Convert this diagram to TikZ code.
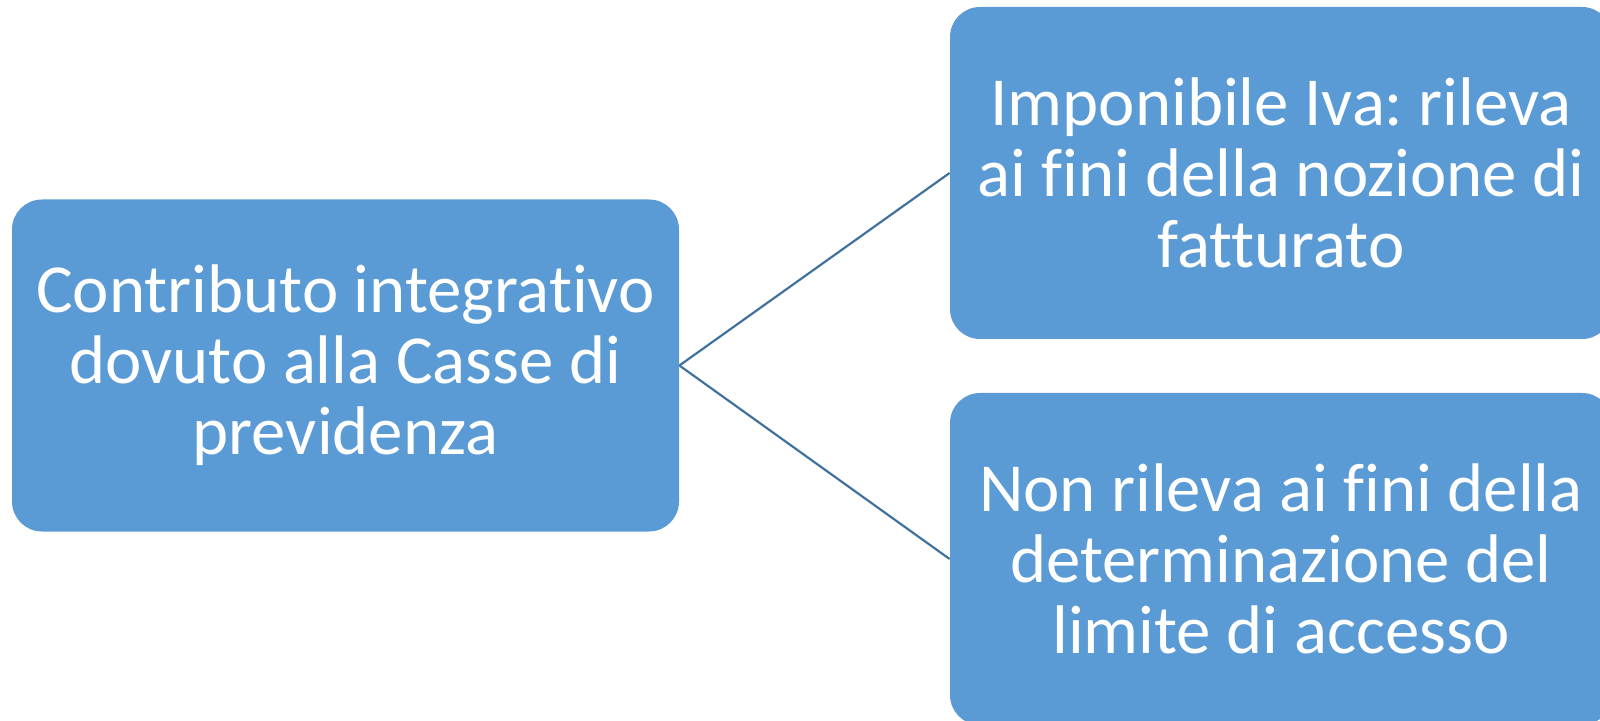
\documentclass[tikz,border=0pt]{standalone}
\usepackage{fontspec}
\setmainfont{Carlito}[Ligatures={NoCommon}]
\frenchspacing
\definecolor{boxblue}{HTML}{5B9BD5}
\definecolor{linkblue}{HTML}{41719C}

\begin{document}
\begin{tikzpicture}[
    x=0.5pt, y=-0.5pt,
    box/.style={fill=boxblue, rounded corners=15pt, text=white, align=center,
        inner sep=0pt, font=\fontsize{34.4}{35.5}\selectfont,
        minimum width=331pt, minimum height=166pt},
    link/.style={linkblue, line width=1.1pt}
]
\useasboundingbox (0,0) rectangle (1600,721);
%
\node[box, minimum width=333.5pt] (contrib) at (345.5,365.5)
    {Contributo integrativo\\dovuto alla Casse di\\previdenza};
\node[box] (iva) at (1281,173)
    {Imponibile Iva: rileva\\ai fini della nozione di\\fatturato};
\node[box] (limite) at (1281,559)
    {Non rileva ai fini della\\determinazione del\\limite di accesso};
%
\draw[link] (contrib.east) -- (iva.west);
\draw[link] (contrib.east) -- (limite.west);
\end{tikzpicture}
\end{document}
